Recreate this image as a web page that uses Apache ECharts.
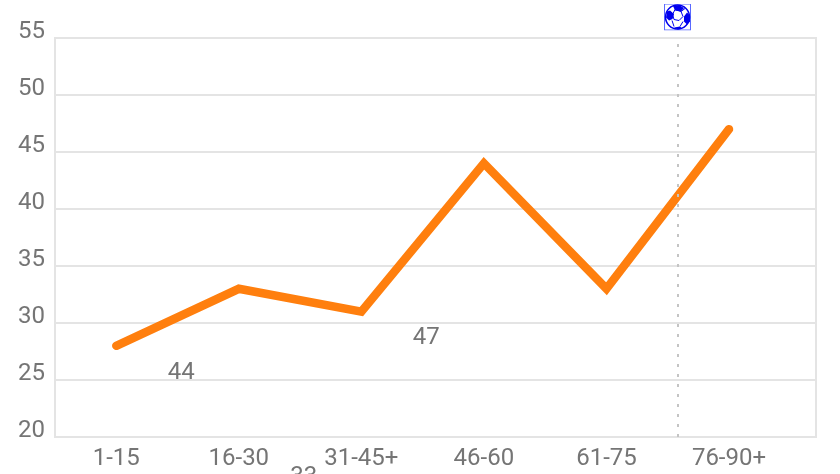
<!DOCTYPE html>
<html>
<head>
<meta charset="utf-8">
<style>html,body{margin:0;padding:0;background:#fff}#main{width:840px;height:474px}</style>
<script src="https://cdn.jsdelivr.net/npm/echarts@6/dist/echarts.min.js"></script>
</head>
<body>
<div id="main"></div>
<script>
// 数据
var categories = ['1-15', '16-30', '31-45+', '46-60', '61-75', '76-90+'];
var positions = [0, 1, 2, 3, 4, 5];
var values = [28, 33, 31, 44, 33, 47];
var strayX = [0.53, 1.53, 2.53];
var strayY = [25.6, 16.5, 28.7];
var strayText = [44, 33, 47];
var goalX = 4.58;
var ball = 'image://data:image/svg+xml;utf8,' + encodeURIComponent(
  '<svg xmlns="http://www.w3.org/2000/svg" width="27" height="27" viewBox="0 0 27 27">' +
  '<rect x="0.5" y="0.5" width="26" height="26" fill="#fff" stroke="#5566ff"/>' +
  '<circle cx="13.500" cy="13.500" r="12" fill="#fff" stroke="#0000ee" stroke-width="1.500"/>' +
  '<path d="M9 2.500l6-1 5 3-3 3.500-6-1zM2 14l1-6 3-1 4 3.500-1.500 5-3.500 1.500zM20 13l3-4 3 3 0 6-3 3-3-3zM10 24l6-1 2 2-4 1z" fill="#0000ee"/>' +
  '<path d="M11 6l6 2 2 5-4 4-5-1-1.500-5zM8 17l2 6M19 18l-3 5M17 8l4-3" fill="none" stroke="#0000ee"/>' +
  '</svg>'
);

var myChart = echarts.init(document.getElementById('main'), null, { renderer: 'canvas' });

var font = { color: '#757575', fontFamily: 'Roboto', fontSize: 24 };

myChart.setOption({
  animation: false,
  grid: {
    left: 55, right: 24, top: 38, bottom: 37,
    show: true, borderColor: '#e4e4e4', borderWidth: 2, backgroundColor: 'transparent'
  },
  xAxis: {
    type: 'value',
    min: -0.5,
    max: 5.71,
    axisLine: { show: false },
    axisTick: { show: false },
    splitLine: { show: false },
    axisLabel: Object.assign({}, font, {
      customValues: positions,
      margin: 10,
      formatter: function (v) { return categories[Math.round(v)]; }
    })
  },
  yAxis: {
    type: 'value',
    min: 20,
    max: 55,
    interval: 5,
    axisLine: { show: false },
    axisTick: { show: false },
    splitLine: { lineStyle: { color: '#e4e4e4', width: 2 } },
    axisLabel: Object.assign({}, font, { margin: 10, verticalAlign: 'bottom', lineHeight: 12 })
  },
  series: [
    {
      type: 'line',
      data: positions.map(function (p, i) { return [p, values[i]]; }),
      showSymbol: false,
      symbol: 'none',
      lineStyle: { color: '#ff7f0e', width: 8.5, cap: 'round', join: 'miter' },
      markLine: {
        silent: true,
        symbol: 'none',
        label: { show: false },
        lineStyle: { color: '#c4c4c4', type: [3, 7], width: 2 },
        data: [{ xAxis: goalX }]
      },
      markPoint: {
        silent: true,
        symbol: ball,
        symbolSize: 27,
        symbolOffset: [0, -21],
        label: { show: false },
        data: [{ coord: [goalX, 55] }]
      }
    },
    {
      type: 'scatter',
      clip: false,
      symbolSize: 0,
      itemStyle: { opacity: 1 },
      data: strayX.map(function (x, i) { return [x, strayY[i], strayText[i]]; }),
      label: Object.assign({}, font, {
        show: true,
        position: 'inside',
        opacity: 1,
        formatter: function (p) { return p.value[2]; }
      })
    }
  ]
});
</script>
</body>
</html>
